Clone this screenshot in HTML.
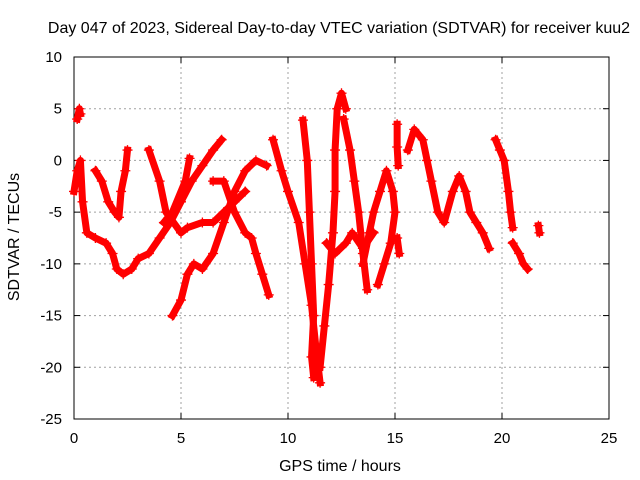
<!DOCTYPE html>
<html><head><meta charset="utf-8"><style>
body{margin:0;background:#fff}
svg{display:block;font-family:"Liberation Sans",sans-serif}
</style></head><body>
<svg id="chart" width="640" height="480" viewBox="0 0 640 480">
<text x="339" y="33" text-anchor="middle" font-size="16">Day 047 of 2023, Sidereal Day-to-day VTEC variation (SDTVAR) for receiver kuu2</text>
<text transform="translate(19,237) rotate(-90)" text-anchor="middle" font-size="16">SDTVAR / TECUs</text>
<text x="340" y="471" text-anchor="middle" font-size="16">GPS time / hours</text>
<g id="grid"></g><g id="axes"></g><g id="marks"></g>
</svg>
<script>
const xTicks=[0,5,10,15,20,25];
const yTicks=[-25,-20,-15,-10,-5,0,5,10];
const trackA=[[0.15,4],[0.25,5],[0.3,4.5]];
const trackB=[[0,-3],[0.15,-1],[0.3,0],[0.4,-4],[0.6,-7],[1,-7.5],[1.5,-8],[1.8,-9],[2,-10.5],[2.3,-11],[2.7,-10.5],[3,-9.5],[3.5,-9],[4,-7.5],[4.5,-6],[5,-4],[5.5,-2],[6,-0.5],[6.5,1],[6.9,2]];
const trackC=[[1,-1],[1.3,-2],[1.6,-4],[1.9,-5],[2.1,-5.5],[2.2,-3],[2.4,-1],[2.5,1]];
const trackD=[[3.5,1],[4,-2],[4.3,-5],[5,-7],[5.3,-6.5],[6,-6],[6.5,-6],[7,-5],[7.5,-4],[8,-3]];
const trackE=[[4.6,-15],[5,-13.5],[5.3,-11],[5.6,-10],[6,-10.5],[6.5,-9],[7,-6],[7.5,-3],[8,-1],[8.5,0],[9,-0.5]];
const trackF=[[4.2,-6],[4.6,-5],[5.2,-2],[5.4,0.2]];
const trackG=[[6.5,-2],[7,-2],[7.5,-5],[8,-7],[8.3,-7.5],[8.5,-9],[8.8,-11],[9.1,-13]];
const trackH=[[9.3,2],[9.7,-1],[10,-3],[10.5,-6],[10.8,-10],[11.1,-14],[11.3,-18],[11.5,-21.5]];
const trackI=[[10.7,3.9],[10.9,0],[11,-5],[11.1,-10],[11.2,-15],[11.1,-19],[11.2,-21]];
const trackJ=[[11.5,-20],[11.7,-16],[11.9,-12],[12.1,-7],[12.2,-3],[12.2,1],[12.3,5],[12.5,6.5],[12.7,5]];
const trackK=[[12.6,4],[12.9,1],[13.1,-2],[13.3,-5],[13.5,-9],[13.7,-12.5]];
const trackL=[[13.5,-10],[13.8,-7],[14,-5],[14.3,-3],[14.6,-1],[14.9,-3],[15,-5],[14.8,-8],[14.5,-10],[14.2,-12]];
const trackM=[[11.8,-8],[12.2,-9],[12.7,-8],[13,-7],[13.5,-8.5],[14,-7]];
const trackN=[[15.1,3.5],[15.1,1.3],[15.15,-0.5]];
const trackO=[[15.1,-7.5],[15.2,-9]];
const trackP=[[15.6,1],[15.9,3],[16.3,2],[16.5,0],[16.7,-2],[17,-5],[17.3,-6],[17.7,-3],[18,-1.5],[18.3,-3],[18.5,-5],[18.8,-6],[19.1,-7],[19.4,-8.5]];
const trackQ=[[19.7,2],[19.9,1],[20.1,0],[20.3,-3],[20.4,-5],[20.5,-6.5]];
const trackR=[[20.5,-8],[20.8,-9],[21,-10],[21.2,-10.5]];
const trackS=[[21.7,-6.3],[21.75,-7]];
const tracks=[trackA,trackB,trackC,trackD,trackE,trackF,trackG,trackH,trackI,trackJ,trackK,trackL,trackM,trackN,trackO,trackP,trackQ,trackR,trackS];
const X0=74,X1=609,Y0=419,Y1=57;
const sx=v=>X0+(v-0)/25*(X1-X0);
const sy=v=>Y0-(v+25)/35*(Y0-Y1);
const NS="http://www.w3.org/2000/svg";
function mk(t,a,p){const e=document.createElementNS(NS,t);for(const k in a)e.setAttribute(k,a[k]);p.appendChild(e);return e;}
const grid=document.getElementById('grid'),axes=document.getElementById('axes'),marks=document.getElementById('marks');
xTicks.forEach(t=>{const x=sx(t);
 if(t>0&&t<25){const l=mk('line',{x1:x,x2:x,y1:Y0,y2:Y1,stroke:'#a0a0a0','stroke-dasharray':'2,3'},grid);
 
 }
 mk('line',{x1:x,x2:x,y1:Y0,y2:Y0-6,stroke:'#000'},axes);mk('line',{x1:x,x2:x,y1:Y1,y2:Y1+6,stroke:'#000'},axes);
 const tx=mk('text',{x:x,y:Y0+24,'text-anchor':'middle','font-size':15},axes);tx.textContent=t;
 
 });
yTicks.forEach(t=>{const y=sy(t);
 if(t>-25&&t<10){const l=mk('line',{x1:X0,x2:X1,y1:y,y2:y,stroke:'#a0a0a0','stroke-dasharray':'2,3'},grid);
 
 }
 mk('line',{x1:X0,x2:X0+6,y1:y,y2:y,stroke:'#000'},axes);mk('line',{x1:X1,x2:X1-6,y1:y,y2:y,stroke:'#000'},axes);
 const tx=mk('text',{x:X0-12,y:y+5,'text-anchor':'end','font-size':15},axes);tx.textContent=t;
 
 });
const fr=mk('rect',{x:X0,y:Y1,width:X1-X0,height:Y0-Y1,fill:'none',stroke:'#000'},axes);


tracks.forEach((tr,i)=>{
 const g=mk('g',{},marks);
 
 
 mk('polyline',{points:tr.map(p=>sx(p[0])+','+sy(p[1])).join(' '),fill:'none',stroke:'#f00','stroke-width':7,'stroke-linejoin':'round','stroke-linecap':'square'},g);
 tr.forEach(p=>{const x=sx(p[0]),y=sy(p[1]);
  mk('path',{d:`M${x-5},${y}h10M${x},${y-5}v10`,stroke:'#f00','stroke-width':1.3},g);});
});
</script>
</body></html>
